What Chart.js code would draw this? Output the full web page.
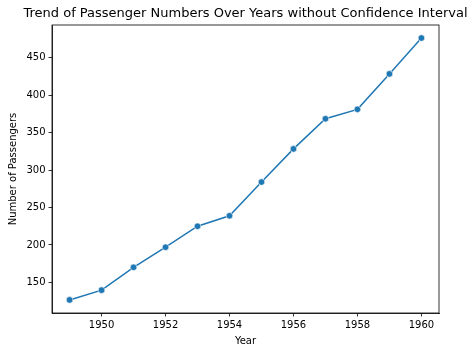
<!DOCTYPE html>
<html>
<head>
<meta charset="utf-8">
<script src="https://cdn.jsdelivr.net/npm/chart.js@4/dist/chart.umd.min.js"></script>
<style>
html,body{margin:0;padding:0;background:#fff;}
canvas{display:block;}
</style>
</head>
<body>
<canvas id="c" width="474" height="355"></canvas>
<script>
const years = [1949,1950,1951,1952,1953,1954,1955,1956,1957,1958,1959,1960];
const passengers = [126.67,139.67,170.17,197.0,225.0,238.92,284.0,328.25,368.42,381.0,428.33,476.17];
const xTickValues = [1950,1952,1954,1956,1958,1960];
const yTickValues = [150,200,250,300,350,400,450];
const titleText = 'Trend of Passenger Numbers Over Years without Confidence Interval';
const xLabel = 'Year';
const yLabel = 'Number of Passengers';

const FONT = '"DejaVu Sans", sans-serif';

const decor = {
  id: 'decor',
  afterDraw(chart) {
    const ctx = chart.ctx, a = chart.chartArea;
    ctx.save();
    ctx.strokeStyle = '#000';
    ctx.lineWidth = 0.8;
    ctx.strokeRect(a.left, a.top, a.right - a.left, a.bottom - a.top);
    ctx.fillStyle = '#000';
    ctx.textAlign = 'center';
    ctx.textBaseline = 'middle';
    ctx.font = '13px ' + FONT;
    const cx = (a.left + a.right) / 2;
    ctx.fillText(titleText, cx, 13.5);
    ctx.font = '10px ' + FONT;
    ctx.fillText(xLabel, cx, 341);
    ctx.translate(13, (a.top + a.bottom) / 2);
    ctx.rotate(-Math.PI / 2);
    ctx.fillText(yLabel, 0, 0);
    ctx.restore();
  }
};

new Chart(document.getElementById('c'), {
  type: 'line',
  data: {
    datasets: [{
      data: years.map((y, i) => ({x: y, y: passengers[i]})),
      borderColor: '#1f77b4',
      backgroundColor: '#1f77b4',
      borderWidth: 1.5,
      pointRadius: 3.3,
      pointBorderWidth: 0.6,
      pointBorderColor: '#ffffff',
      pointBackgroundColor: '#1f77b4',
      tension: 0
    }]
  },
  options: {
    responsive: false,
    animation: false,
    layout: {padding: {top: 25, right: 35, left: 0, bottom: 0}},
    plugins: {legend: {display: false}, tooltip: {enabled: false}, title: {display: false}},
    scales: {
      x: {
        type: 'linear',
        min: 1948.45,
        max: 1960.55,
        afterBuildTicks: s => { s.ticks = xTickValues.map(v => ({value: v})); },
        afterFit: s => { s.height = 42; },
        grid: {drawOnChartArea: false, drawTicks: true, tickLength: 3.5, color: '#000', tickWidth: 0.8},
        border: {display: true, color: '#000', width: 0.8},
        ticks: {font: {family: FONT, size: 10}, color: '#000', padding: 3, maxRotation: 0, callback: v => String(v)}
      },
      y: {
        type: 'linear',
        min: 109.2,
        max: 493.6,
        afterBuildTicks: s => { s.ticks = yTickValues.map(v => ({value: v})); },
        afterFit: s => { s.width = 52; },
        grid: {drawOnChartArea: false, drawTicks: true, tickLength: 3.5, color: '#000', tickWidth: 0.8},
        border: {display: true, color: '#000', width: 0.8},
        ticks: {font: {family: FONT, size: 10}, color: '#000', padding: 3, callback: v => String(v)}
      }
    }
  },
  plugins: [decor]
});
</script>
</body>
</html>
